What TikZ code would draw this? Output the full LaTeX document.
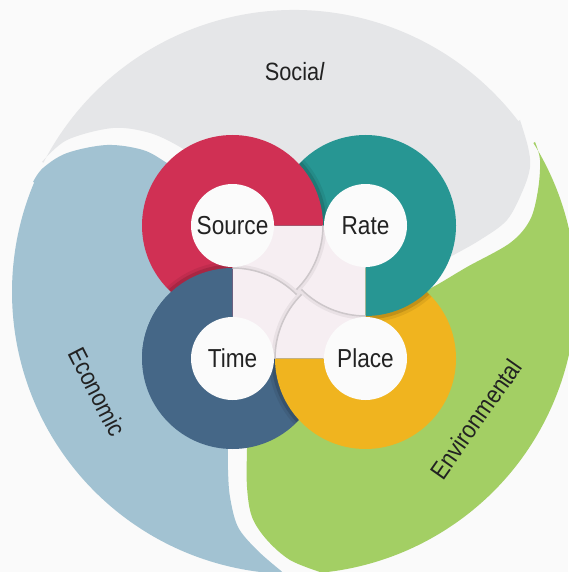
\documentclass[tikz,border=0pt]{standalone}
\usepackage{fontspec}
\setmainfont[FakeStretch=0.87]{Liberation Sans}

\definecolor{bg}{HTML}{FAFAFA}
\definecolor{socialgray}{HTML}{E5E6E8}
\definecolor{econblue}{HTML}{A2C2D2}
\definecolor{envgreen}{HTML}{A3CF64}
\definecolor{sourcered}{HTML}{D03054}
\definecolor{rateteal}{HTML}{279693}
\definecolor{timeblue}{HTML}{456787}
\definecolor{placeyellow}{HTML}{F0B41F}
\definecolor{pale}{HTML}{F6EEF2}
\definecolor{disc}{HTML}{FBFBFB}
\definecolor{ink}{HTML}{222222}
\definecolor{arcgray}{HTML}{CDC7CA}

% three-quarter disc: centre, start angle, end angle, radius
\newcommand\ringsector[4]{(#1) -- ++(#2:#4) arc[start angle=#2,end angle=#3,radius=#4] -- cycle}

\begin{document}
\begin{tikzpicture}[x=1pt,y=-1pt,
  ringlabel/.style={circle, fill=disc, minimum size=83pt, inner sep=0pt,
    text=ink, font=\fontsize{26}{26}\selectfont},
  petallabel/.style={text=ink, inner sep=0pt, font=\fontsize{25}{25}\selectfont},
  quarterarc/.style={draw=arcgray, line width=1.5pt},
  softarc/.style={draw=black, opacity=0.05, line width=4pt},
  shadowin/.style={fill=black, opacity=0.13},
  shadowout/.style={fill=black, opacity=0.07},
]
\useasboundingbox (0,0) rectangle (568,572);
\fill[bg] (0,0) rectangle (568,572);

\coordinate (O) at (294,292);
\coordinate (S) at (232.5,225.5);
\coordinate (R) at (365.5,225.5);
\coordinate (T) at (232.5,358.5);
\coordinate (P) at (365.5,358.5);

% ---- outer petals ----
\fill[socialgray] (O) ++(207.3:282) arc[start angle=207.3, end angle=322.7, radius=282]
  -- plot[smooth, tension=0.55] coordinates {(520,120) (528,147) (530,167) (523,190) (507,220) (480,240) (450,257) (420,274)}
  -- (365,226) -- (232,226)
  -- plot[smooth, tension=0.55] coordinates {(205,165) (180,147) (150,133) (113,128) (67,140) (42,162)}
  -- cycle;

\fill[econblue] (O) ++(202.9:282) arc[start angle=202.9, end angle=92, radius=282]
  -- plot[smooth, tension=0.55] coordinates {(280,570) (257,550) (238,527) (230,497) (228,470) (228,448) (229,420)}
  -- (232,358) -- (232,226)
  -- plot[smooth, tension=0.55] coordinates {(190,178) (167,163) (143,150) (107,145) (67,153) (43,168) (33,182)}
  -- cycle;

\fill[envgreen] (O) ++(328.1:282) arc[start angle=328.1, end angle=444.7, radius=282]
  -- plot[smooth, tension=0.55] coordinates {(320,572) (290,560) (267,540) (252,517) (247,487) (247,448) (248,420)}
  -- (298,358) -- (365,292)
  -- plot[smooth, tension=0.55] coordinates {(405,300) (433,287) (467,267) (510,243) (530,220) (538,190) (540,160) (535,142)}
  -- cycle;

% ---- centre square ----
\fill[pale] (S) rectangle (P);

% ---- rings, each overlapping the next ----
\fill[timeblue] \ringsector{T}{0}{270}{90.5};

\begin{scope}
  \clip \ringsector{T}{0}{270}{90.5};
  \fill[shadowout] \ringsector{P}{270}{540}{97};
  \fill[shadowin] \ringsector{P}{270}{540}{94};
\end{scope}
\fill[placeyellow] \ringsector{P}{270}{540}{90.5};

\begin{scope}
  \clip \ringsector{P}{270}{540}{90.5};
  \fill[shadowout] \ringsector{R}{180}{450}{97};
  \fill[shadowin] \ringsector{R}{180}{450}{94};
\end{scope}
\fill[rateteal] \ringsector{R}{180}{450}{90.5};

\begin{scope}
  \clip \ringsector{R}{180}{450}{90.5};
  \fill[shadowout] \ringsector{S}{90}{360}{97};
  \fill[shadowin] \ringsector{S}{90}{360}{94};
\end{scope}
\fill[sourcered] \ringsector{S}{90}{360}{90.5};

\begin{scope}
  \clip \ringsector{S}{90}{360}{90.5};
  \fill[shadowout] \ringsector{T}{180}{270}{97};
  \fill[shadowin] \ringsector{T}{180}{270}{94};
\end{scope}
\fill[timeblue] \ringsector{T}{180}{270}{90.5};

% ---- quarter arcs inside the square ----
\draw[softarc] (S) ++(0:92) arc[start angle=0, end angle=45, radius=92];
\draw[softarc] (R) ++(90:92) arc[start angle=90, end angle=135, radius=92];
\draw[softarc] (P) ++(180:92) arc[start angle=180, end angle=225, radius=92];
\draw[softarc] (T) ++(270:92) arc[start angle=270, end angle=315, radius=92];
\draw[quarterarc] (S) ++(0:90.5) arc[start angle=0, end angle=45, radius=90.5];
\draw[quarterarc] (R) ++(90:90.5) arc[start angle=90, end angle=135, radius=90.5];
\draw[quarterarc] (P) ++(180:90.5) arc[start angle=180, end angle=225, radius=90.5];
\draw[quarterarc] (T) ++(270:90.5) arc[start angle=270, end angle=315, radius=90.5];

% ---- ring labels ----
\node[ringlabel] (source) at (S) {Source};
\node[ringlabel] (rate) at (R) {Rate};
\node[ringlabel] (time) at (T) {Time};
\node[ringlabel] (place) at (P) {Place};

% ---- petal labels ----
\node[petallabel] (social) at (294.5,72) {Socia{\itshape l}};
\node[petallabel, rotate=-63] (economic) at (97.5,392) {Economic};
\node[petallabel, rotate=55] (environmental) at (476,419) {Environmental};
\end{tikzpicture}
\end{document}
